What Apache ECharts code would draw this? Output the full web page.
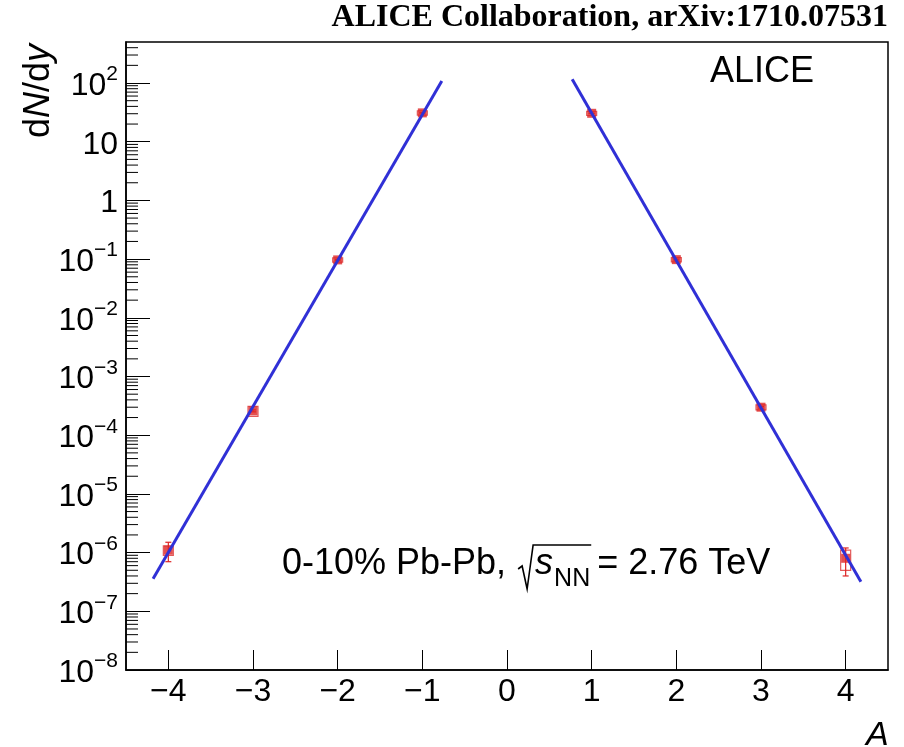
<!DOCTYPE html>
<html>
<head>
<meta charset="utf-8">
<script src="https://cdn.jsdelivr.net/npm/echarts@6/dist/echarts.min.js"></script>
<style>
  html, body { margin: 0; padding: 0; background: #fff; }
  #chart { width: 904px; height: 747px; }
</style>
</head>
<body>
<div id="chart"></div>
<script>
// Mass number A (negative values are the anti-nuclei) and the yields dN/dy
const massNumber = [-4, -3, -2, -1, 1, 2, 3, 4];
const yieldValue = [1.1e-6, 2.6e-4, 0.097, 31, 30.5, 0.098, 3.0e-4, 0.8e-6];
const statError  = [0.4e-6, 0.1e-4, 0.002, 0.3, 0.3, 0.002, 0.1e-4, 0.4e-6];
const systError  = [0.2e-6, 0.5e-4, 0.008, 2.5, 2.5, 0.008, 0.3e-4, 0.3e-6];

// Exponential fits, drawn as straight lines on the log scale (end points)
const fitAntiA   = [-4.18, -0.77];
const fitAntiY   = [3.6e-7, 108];
const fitMatterA = [0.77, 4.18];
const fitMatterY = [116, 3.2e-7];

// Axis ticks
const xTicks = [-4, -3, -2, -1, 0, 1, 2, 3, 4];
const yTicks = [1e-8, 1e-7, 1e-6, 1e-5, 1e-4, 1e-3, 1e-2, 1e-1, 1, 10, 100];
const minorMultipliers = [2, 3, 4, 5, 6, 7, 8, 9];

const X_MIN = -4.5, X_MAX = 4.5, Y_MIN = 1e-8, Y_MAX = 500;
const FONT = '"Liberation Sans", Arial, Helvetica, sans-serif';
const RED = '#dd2424';
const BLUE = '#3030d6';

const minorTickValues = [];
yTicks.forEach(d => {
  minorMultipliers.forEach(m => {
    const v = m * d;
    if (v < Y_MAX) minorTickValues.push(v);
  });
});

const pointData = massNumber.map((a, i) => [a, yieldValue[i]]);
const errorData = massNumber.map((a, i) => [
  a, yieldValue[i],
  yieldValue[i] - statError[i], yieldValue[i] + statError[i],
  yieldValue[i] - systError[i], yieldValue[i] + systError[i]
]);

function minusSign(v) { return v < 0 ? '\u2212' + (-v) : String(v); }

function yLabel(v) {
  const e = Math.round(Math.log10(v));
  if (e === 0) return '{b|1}';
  if (e === 1) return '{b|10}';
  return '{b|10}{s|' + minusSign(e) + '}';
}

// text measuring for the annotation line
const measureCtx = document.createElement('canvas').getContext('2d');
function textWidth(text, font) { measureCtx.font = font; return measureCtx.measureText(text).width; }

const chart = echarts.init(document.getElementById('chart'), null, { renderer: 'canvas' });

// Annotation: 0-10% Pb-Pb, sqrt(s_NN) = 2.76 TeV
const annX = 282, annBase = 582, annSize = 36;
const fMain = annSize + 'px ' + FONT;
const fItal = 'italic ' + annSize + 'px ' + FONT;
const fSub = '25px ' + FONT;
const part1 = '0-10% Pb-Pb, ';
const w1 = textWidth(part1, fMain);
const radX = annX + w1 + 2;
const sX = radX + 17;
const wS = textWidth('s', fItal);
const nnX = sX + wS + 1;
const wNN = textWidth('NN', fSub);
const radEnd = nnX + wNN + 1;
const eqX = radEnd + 6;
const rTop = annBase - 37;

const annotation = [
  { type: 'text', x: annX, y: annBase, style: { text: part1, font: fMain, fill: '#000', verticalAlign: 'bottom' } },
  { type: 'polyline', shape: { points: [[radX, rTop + 24], [radX + 4, rTop + 21], [radX + 9, rTop + 44], [radX + 15, rTop], [radEnd, rTop]] },
    style: { stroke: '#000', lineWidth: 1.6, fill: null } },
  { type: 'text', x: sX, y: annBase, style: { text: 's', font: fItal, fill: '#000', verticalAlign: 'bottom' } },
  { type: 'text', x: nnX, y: annBase + 10, style: { text: 'NN', font: fSub, fill: '#000', verticalAlign: 'bottom' } },
  { type: 'text', x: eqX, y: annBase, style: { text: '= 2.76 TeV', font: fMain, fill: '#000', verticalAlign: 'bottom' } }
];

const option = {
  animation: false,
  backgroundColor: '#fff',
  grid: { left: 126, right: 16, top: 42, bottom: 77, show: true, borderColor: '#000', borderWidth: 1.5, backgroundColor: 'transparent' },
  xAxis: {
    type: 'value', min: X_MIN, max: X_MAX,
    axisLine: { show: true, onZero: false, lineStyle: { color: '#000', width: 1.5 } },
    axisTick: { show: true, inside: true, length: 20, customValues: xTicks, lineStyle: { color: '#000', width: 1 } },
    axisLabel: { customValues: xTicks, formatter: v => minusSign(v), fontSize: 32, fontFamily: FONT, color: '#000', margin: 6 },
    splitLine: { show: false }
  },
  yAxis: {
    type: 'log', logBase: 10, min: Y_MIN, max: Y_MAX, splitNumber: 10,
    axisLine: { show: true, onZero: false, lineStyle: { color: '#000', width: 1.5 } },
    axisTick: { show: true, inside: true, length: 24, customValues: yTicks, lineStyle: { color: '#000', width: 1 } },
    axisLabel: {
      customValues: yTicks,
      formatter: yLabel, margin: 8, color: '#000',
      rich: {
        b: { fontSize: 32, fontFamily: FONT, color: '#000', lineHeight: 38, verticalAlign: 'bottom' },
        s: { fontSize: 21, fontFamily: FONT, color: '#000', lineHeight: 21, verticalAlign: 'top' }
      }
    },
    splitLine: { show: false }
  },
  graphic: [
    { type: 'text', right: 16, top: 2, style: { text: 'ALICE Collaboration, arXiv:1710.07531', font: 'bold 32px "Liberation Serif", "Times New Roman", serif', fill: '#000' } },
    { type: 'text', x: 710, y: 54, style: { text: 'ALICE', font: '36px ' + FONT, fill: '#000' } },
    { type: 'text', x: 39, y: 138, rotation: Math.PI / 2,
      style: { text: 'd{i|N}/d{i|y}', font: '36px ' + FONT, fill: '#000', align: 'left', verticalAlign: 'middle',
        rich: { i: { fontStyle: 'italic', fontSize: 36, fontFamily: FONT, fill: '#000' } } } },
    { type: 'text', x: 866, y: 719, style: { text: 'A', font: 'italic 34px ' + FONT, fill: '#000' } },
    ...annotation
  ],
  series: [
    {
      // minor ticks on the log axis at 2..9 x 10^n
      type: 'custom', silent: true, z: 1, clip: false,
      data: minorTickValues.map(v => [X_MIN, v]),
      renderItem(params, api) {
        const p = api.coord([api.value(0), api.value(1)]);
        return { type: 'line', shape: { x1: p[0], y1: p[1], x2: p[0] + 12, y2: p[1] }, style: { stroke: '#000', lineWidth: 1 } };
      }
    },
    {
      // systematic boxes and statistical error bars
      type: 'custom', silent: true, z: 2,
      data: errorData,
      renderItem(params, api) {
        const x = api.value(0);
        const p = api.coord([x, api.value(1)]);
        const sLo = api.coord([x, api.value(2)]);
        const sHi = api.coord([x, api.value(3)]);
        const bLo = api.coord([x, api.value(4)]);
        const bHi = api.coord([x, api.value(5)]);
        const st = { stroke: RED, lineWidth: 1.2, fill: null };
        return {
          type: 'group',
          children: [
            { type: 'rect', shape: { x: p[0] - 5, y: bHi[1], width: 10, height: bLo[1] - bHi[1] }, style: { stroke: '#e35a5a', lineWidth: 1.2, fill: null } },
            { type: 'line', shape: { x1: p[0], y1: sHi[1], x2: p[0], y2: sLo[1] }, style: st },
            { type: 'line', shape: { x1: p[0] - 3, y1: sHi[1], x2: p[0] + 3, y2: sHi[1] }, style: st },
            { type: 'line', shape: { x1: p[0] - 3, y1: sLo[1], x2: p[0] + 3, y2: sLo[1] }, style: st }
          ]
        };
      }
    },
    {
      type: 'scatter', z: 3, symbol: 'rect', symbolSize: 9,
      itemStyle: { color: RED },
      data: pointData
    },
    {
      type: 'line', z: 4, symbol: 'none', smooth: false,
      lineStyle: { color: BLUE, width: 3 },
      data: fitAntiA.map((a, i) => [a, fitAntiY[i]])
    },
    {
      type: 'line', z: 4, symbol: 'none', smooth: false,
      lineStyle: { color: BLUE, width: 3 },
      data: fitMatterA.map((a, i) => [a, fitMatterY[i]])
    }
  ]
};

chart.setOption(option);
</script>
</body>
</html>
